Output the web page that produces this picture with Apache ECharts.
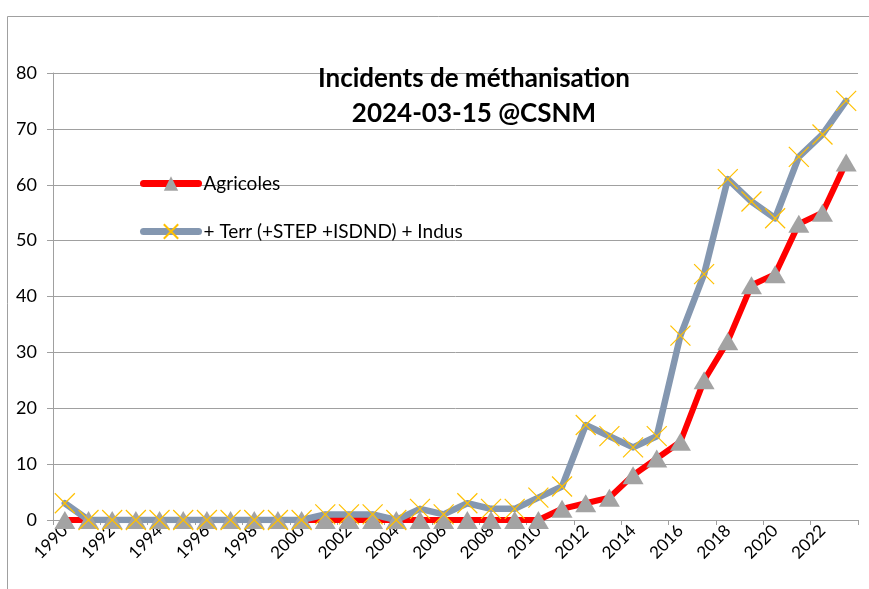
<!DOCTYPE html>
<html>
<head>
<meta charset="utf-8">
<script src="https://cdn.jsdelivr.net/npm/echarts@6/dist/echarts.min.js"></script>
<style>
  html, body { margin: 0; padding: 0; background: #fff; }
  #chart { width: 869px; height: 589px; }
</style>
</head>
<body>
<div id="chart"></div>
<script>
// données
const years = ['1990', '1991', '1992', '1993', '1994', '1995', '1996', '1997', '1998', '1999',
  '2000', '2001', '2002', '2003', '2004', '2005', '2006', '2007', '2008', '2009',
  '2010', '2011', '2012', '2013', '2014', '2015', '2016', '2017', '2018', '2019',
  '2020', '2021', '2022', '2023'];
const agricoles = [0, 0, 0, 0, 0, 0, 0, 0, 0, 0,
  0, 0, 0, 0, 0, 0, 0, 0, 0, 0,
  0, 2, 3, 4, 8, 11, 14, 25, 32, 42,
  44, 53, 55, 64];
const terrIndus = [3, 0, 0, 0, 0, 0, 0, 0, 0, 0,
  0, 1, 1, 1, 0, 2, 1, 3, 2, 2,
  4, 6, 17, 15, 13, 15, 33, 44, 61, 57,
  54, 65, 69, 75];
const yTicks = { min: 0, max: 80, step: 10 };

const FONT = 'Lato';
const chart = echarts.init(document.getElementById('chart'));

const option = {
  animation: false,
  backgroundColor: '#fff',
  title: {
    text: 'Incidents de méthanisation\n2024-03-15 @CSNM',
    left: 469,
    top: 56,
    textAlign: 'center',
    textStyle: {
      fontFamily: FONT,
      fontWeight: 'bold',
      fontSize: 26,
      lineHeight: 35,
      color: '#000'
    }
  },
  legend: {
    orient: 'vertical',
    left: 140,
    top: 174,
    padding: 0,
    itemWidth: 55,
    itemHeight: 18,
    itemGap: 29,
    lineStyle: { width: 7, cap: 'round' },
    textStyle: { fontFamily: FONT, fontSize: 19, color: '#000' },
    data: ['Agricoles', '+ Terr (+STEP +ISDND) + Indus']
  },
  grid: { left: 53, right: 11, top: 73, bottom: 69 },
  xAxis: {
    type: 'category',
    data: years,
    boundaryGap: true,
    axisLine: { lineStyle: { color: '#a0a0a0', width: 1 } },
    axisTick: { show: true, interval: 1, length: 5, lineStyle: { color: '#a0a0a0' } },
    axisLabel: {
      interval: 1,
      rotate: 45,
      margin: 8,
      fontFamily: FONT,
      fontSize: 17,
      color: '#000'
    },
    splitLine: { show: false }
  },
  yAxis: {
    type: 'value',
    min: yTicks.min,
    max: yTicks.max,
    interval: yTicks.step,
    axisLine: { show: true, lineStyle: { color: '#a0a0a0' } },
    axisTick: { show: true, length: 6, lineStyle: { color: '#a0a0a0' } },
    axisLabel: { margin: 16, fontFamily: FONT, fontSize: 18, color: '#000' },
    splitLine: { lineStyle: { color: '#a0a0a0', width: 1 } }
  },
  series: [
    {
      name: 'Agricoles',
      type: 'line',
      data: agricoles,
      showAllSymbol: true,
      symbol: 'triangle',
      symbolSize: [21, 18],
      lineStyle: { color: '#ff0000', width: 6, cap: 'round', join: 'round' },
      itemStyle: { color: '#a3a3a3' }
    },
    {
      name: '+ Terr (+STEP +ISDND) + Indus',
      type: 'line',
      data: terrIndus,
      showAllSymbol: true,
      symbol: 'path://M0,0L10,10M10,0L0,10',
      symbolSize: 20,
      lineStyle: { color: '#8497b0', width: 6.5, cap: 'round', join: 'round' },
      itemStyle: { color: '#8497b0', borderColor: '#ffc000', borderWidth: 1.2 }
    }
  ],
  graphic: [
    {
      type: 'rect',
      silent: true,
      shape: { x: 7.5, y: 16.5, width: 900, height: 620 },
      style: { fill: null, stroke: '#a0a0a0', lineWidth: 1 }
    }
  ]
};

chart.setOption(option);
window.addEventListener('resize', () => chart.resize());
</script>
</body>
</html>
